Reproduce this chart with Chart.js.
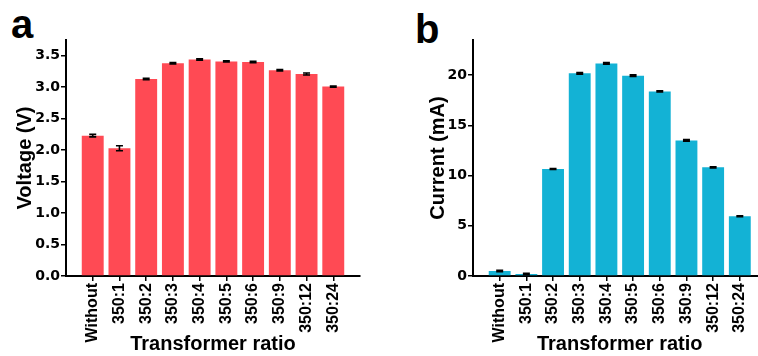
<!DOCTYPE html>
<html>
<head>
<meta charset="utf-8">
<script src="https://cdn.jsdelivr.net/npm/chart.js@4"></script>
<style>
  html, body { margin:0; padding:0; width:758px; height:356px; overflow:hidden; background:#fff; }
  canvas { position:absolute; top:0; }
  .lbl { position:absolute; font-family:"Liberation Sans", Arial, sans-serif; font-weight:bold; font-size:40px; line-height:40px; color:#000; }
</style>
</head>
<body>
<div class="lbl" style="left:11px; top:4px;">a</div>
<div class="lbl" style="left:415px; top:9px;">b</div>
<canvas id="cA" width="380" height="356" style="left:0px;"></canvas>
<canvas id="cB" width="400" height="356" style="left:380px;"></canvas>
<script>
const categories = ['Without', '350:1', '350:2', '350:3', '350:4', '350:5', '350:6', '350:9', '350:12', '350:24'];
const voltage = [2.23, 2.03, 3.13, 3.38, 3.44, 3.41, 3.40, 3.27, 3.21, 3.01];
const voltageErr = [0.02, 0.04, 0.01, 0.01, 0.01, 0.01, 0.01, 0.01, 0.015, 0.01];
const current = [0.5, 0.2, 10.65, 20.18, 21.17, 19.95, 18.38, 13.5, 10.82, 5.95];
const currentErr = [0.06, 0.08, 0.05, 0.08, 0.08, 0.08, 0.05, 0.08, 0.05, 0.05];
const voltageTicks = [0, 0.5, 1.0, 1.5, 2.0, 2.5, 3.0, 3.5];
const currentTicks = [0, 5, 10, 15, 20];

const padLabels = [''].concat(categories, ['']);
function pad(arr) { return [null].concat(arr, [null]); }

const errorBarPlugin = {
  id: 'errorBars',
  afterDatasetsDraw(chart, args, opts) {
    const ctx = chart.ctx;
    const meta = chart.getDatasetMeta(0);
    const ys = chart.scales.y;
    const vals = chart.data.datasets[0].data;
    const errs = opts.errors;
    ctx.save();
    ctx.strokeStyle = '#000';
    ctx.lineWidth = 1.6;
    meta.data.forEach((bar, i) => {
      const v = vals[i];
      const e = errs[i];
      if (v === null || e === null || e === undefined) return;
      const x = bar.x;
      const yT = ys.getPixelForValue(v + e);
      const yB = ys.getPixelForValue(v - e);
      ctx.beginPath();
      ctx.moveTo(x, yT); ctx.lineTo(x, yB);
      ctx.moveTo(x - 3.5, yT); ctx.lineTo(x + 3.5, yT);
      ctx.moveTo(x - 3.5, yB); ctx.lineTo(x + 3.5, yB);
      ctx.stroke();
    });
    ctx.restore();
  }
};

function makeChart(id, values, errs, color, yMax, ticksList, yTitle, yWidth, yTitlePad, area, fmt) {
  const step = ticksList[1] - ticksList[0];
  const chart = new Chart(document.getElementById(id), {
    type: 'bar',
    data: {
      labels: padLabels,
      datasets: [{
        data: pad(values),
        backgroundColor: color,
        borderWidth: 0,
        barPercentage: 0.82,
        categoryPercentage: 1.0
      }]
    },
    options: {
      responsive: false,
      animation: false,
      devicePixelRatio: 1,
      layout: { padding: { left: 0, top: area.top, right: 380 - area.right, bottom: 0 } },
      plugins: {
        legend: { display: false },
        tooltip: { enabled: false },
        errorBars: { errors: pad(errs) }
      },
      scales: {
        x: {
          type: 'category',
          offset: false,
          grid: {
            offset: false,
            drawOnChartArea: false,
            drawTicks: true,
            tickLength: 5,
            lineWidth: 1.5,
            color: (c) => (c.index === 0 || c.index === padLabels.length - 1) ? 'rgba(0,0,0,0)' : '#000'
          },
          border: { display: true, color: '#000', width: 2 },
          ticks: {
            autoSkip: false,
            minRotation: 90,
            maxRotation: 90,
            padding: 2,
            color: '#000',
            font: { family: '"Liberation Sans", Arial, sans-serif', weight: 'bold', size: 16 }
          },
          title: {
            display: true,
            text: 'Transformer ratio',
            color: '#000',
            padding: { top: 0, bottom: 0 },
            font: { family: '"Liberation Sans", Arial, sans-serif', weight: 'bold', size: 20 }
          },
          afterFit(scale) { scale.height = 80; scale.paddingLeft = 0; scale.paddingRight = 0; }
        },
        y: {
          min: 0,
          max: yMax,
          grid: {
            drawOnChartArea: false,
            drawTicks: true,
            tickLength: 5,
            lineWidth: 1.5,
            color: '#000'
          },
          border: { display: true, color: '#000', width: 2 },
          ticks: {
            stepSize: step,
            padding: 1,
            color: '#000',
            font: { family: '"DejaVu Sans", sans-serif', weight: 'bold', size: 14 },
            callback: (v) => fmt(v)
          },
          afterBuildTicks(scale) {
            scale.ticks = ticksList.map(v => ({ value: v }));
          },
          title: {
            display: true,
            text: yTitle,
            color: '#000',
            padding: { top: yTitlePad, bottom: 0 },
            font: { family: '"Liberation Sans", Arial, sans-serif', weight: 'bold', size: 20 }
          },
          afterFit(scale) { scale.width = yWidth; scale.paddingTop = 0; scale.paddingBottom = 0; }
        }
      }
    },
    plugins: [errorBarPlugin]
  });
  // nudge layout padding so the plot area lands exactly where the reference has it
  for (let k = 0; k < 3; k++) {
    const a = chart.chartArea;
    const p = chart.options.layout.padding;
    const dr = a.right - area.right;
    const dt = area.top - a.top;
    const db = a.bottom - area.bottom;
    if (Math.abs(dr) < 0.3 && Math.abs(dt) < 0.3 && Math.abs(db) < 0.3) break;
    p.right = p.right + dr;
    p.top = p.top + dt;
    p.bottom = Math.max(0, p.bottom + db);
    chart.update();
  }
  return chart;
}

makeChart('cA', voltage, voltageErr, '#FF4A54', 3.75, voltageTicks, 'Voltage (V)', 66, 13,
  { top: 40, right: 360, bottom: 276 }, v => v.toFixed(1));
makeChart('cB', current, currentErr, '#13B2D5', 23.5, currentTicks, 'Current (mA)', 93, 46,
  { top: 40, right: 386.5, bottom: 276 }, v => String(v));
</script>
</body>
</html>
